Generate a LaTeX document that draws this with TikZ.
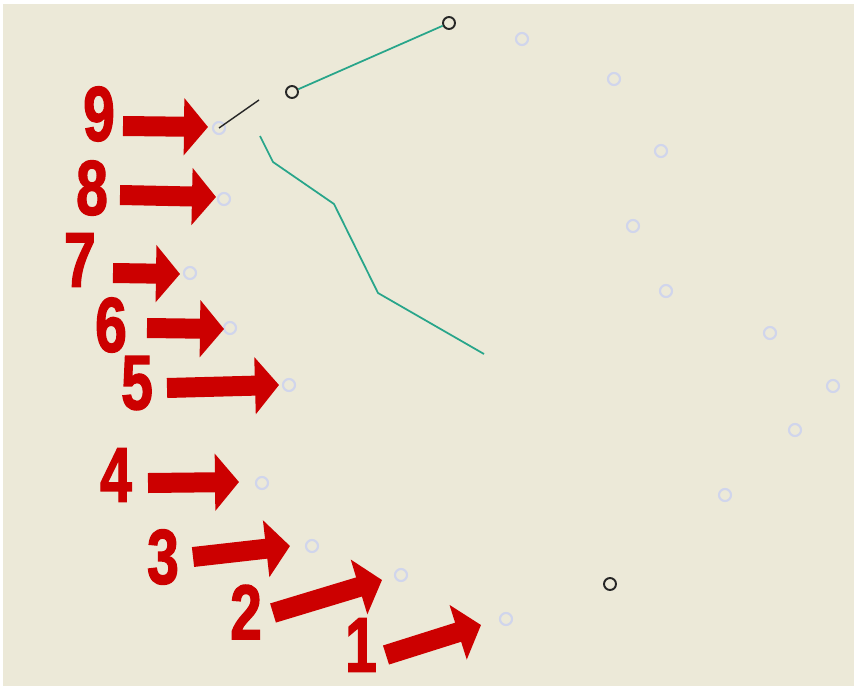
\documentclass[tikz,border=0pt]{standalone}
\usepackage{fontspec}
\setmainfont{Liberation Sans}
\newfontfamily\digitfont{Liberation Sans}[UprightFeatures={FakeBold=2}, BoldFeatures={FakeBold=2}]
\usepackage{xcolor}
\usepackage{tikz}
\usetikzlibrary{arrows.meta}
\definecolor{panelbg}{HTML}{ECE9D8}
\definecolor{markred}{HTML}{CC0000}
\definecolor{pathteal}{RGB}{40,165,138}
\definecolor{dimring}{RGB}{208,213,236}

\begin{document}
\begin{tikzpicture}[
        x=0.02cm, y=-0.02cm,
        numlabel/.style={
            text=markred,
            font=\digitfont\fontsize{44}{44}\selectfont\bfseries,
            xscale=0.74,
            inner sep=0pt
        },
        bigarrow/.style={
            draw=markred,
            line width=0.4cm,
            -{Triangle[length=0.48cm, width=1.12cm]}
        },
        ring/.style={
            circle,
            draw=dimring,
            line width=1.2pt,
            minimum size=0.24cm,
            inner sep=0pt
        },
        blackring/.style={
            circle,
            draw=black!85,
            line width=1.1pt,
            minimum size=0.24cm,
            inner sep=0pt
        }
    ]
        % background
        \fill[white] (0,0) rectangle (854,686);
        \fill[panelbg] (3,4) rectangle (854,686);

        % marked points
        \node[ring] (p9) at (219,128) {};
        \node[ring] (p8) at (224,199) {};
        \node[ring] (p7) at (190,273) {};
        \node[ring] (p6) at (230,328) {};
        \node[ring] (p5) at (289,385) {};
        \node[ring] (p4) at (262,483) {};
        \node[ring] (p3) at (312,546) {};
        \node[ring] (p2) at (401,575) {};
        \node[ring] (p1) at (506,619) {};

        % other points
        \node[ring] (q1) at (522,39) {};
        \node[ring] (q2) at (614,79) {};
        \node[ring] (q3) at (661,151) {};
        \node[ring] (q4) at (633,226) {};
        \node[ring] (q5) at (666,291) {};
        \node[ring] (q6) at (770,333) {};
        \node[ring] (q7) at (833,386) {};
        \node[ring] (q8) at (795,430) {};
        \node[ring] (q9) at (725,495) {};

        \node[blackring] (top) at (449,23) {};
        \node[blackring] (mid) at (292,92) {};
        \node[blackring] (low) at (610,584) {};

        % paths
        \coordinate (stub) at (259,100);
        \draw[black!85, line width=0.8pt] (p9.center) -- (stub);
        \draw[pathteal, line width=1pt] (mid) -- (top);

        \coordinate (c1) at (260,136);
        \coordinate (c2) at (273,162);
        \coordinate (c3) at (334,204);
        \coordinate (c4) at (378,293);
        \coordinate (c5) at (484,354);
        \draw[pathteal, line width=1pt] (c1) -- (c2) -- (c3) -- (c4) -- (c5);

        % labels
        \node[numlabel] (n9) at (99,114) {9};
        \node[numlabel] (n8) at (92,188) {8};
        \node[numlabel] (n7) at (80,260) {7};
        \node[numlabel] (n6) at (111,325) {6};
        \node[numlabel] (n5) at (137,383) {5};
        \node[numlabel] (n4) at (116,475) {4};
        \node[numlabel] (n3) at (163,557) {3};
        \node[numlabel] (n2) at (246,612) {2};
        \node[numlabel] (n1) at (361,645) {1};

        % arrows
        \coordinate (s9) at (123,126);  \coordinate (t9) at (208,127);
        \coordinate (s8) at (120,195);  \coordinate (t8) at (216,197);
        \coordinate (s7) at (113,273);  \coordinate (t7) at (180,274);
        \coordinate (s6) at (147,328);  \coordinate (t6) at (224,329);
        \coordinate (s5) at (167,388);  \coordinate (t5) at (279,385);
        \coordinate (s4) at (148,483);  \coordinate (t4) at (239,482);
        \coordinate (s3) at (193,557);  \coordinate (t3) at (290,546);
        \coordinate (s2) at (273,613);  \coordinate (t2) at (382,580);
        \coordinate (s1) at (386,655);  \coordinate (t1) at (481,625);

        \draw[bigarrow] (s9) -- (t9);
        \draw[bigarrow] (s8) -- (t8);
        \draw[bigarrow] (s7) -- (t7);
        \draw[bigarrow] (s6) -- (t6);
        \draw[bigarrow] (s5) -- (t5);
        \draw[bigarrow] (s4) -- (t4);
        \draw[bigarrow] (s3) -- (t3);
        \draw[bigarrow] (s2) -- (t2);
        \draw[bigarrow] (s1) -- (t1);
    \end{tikzpicture}
\end{document}
